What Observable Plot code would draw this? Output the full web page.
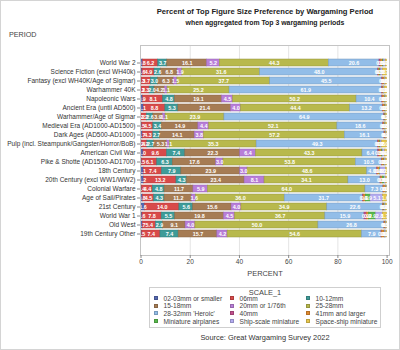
<!DOCTYPE html>
<html>
<head>
<meta charset="utf-8">
<script src="https://cdn.jsdelivr.net/npm/d3@7"></script>
<script src="https://cdn.jsdelivr.net/npm/@observablehq/plot@0.6"></script>
<style>
  html, body { margin: 0; padding: 0; background: #fff; }
  #wrap { position: relative; width: 400px; height: 350px; overflow: hidden; font-family: "Liberation Sans", Arial, sans-serif; color: #333; }
  #border { position: absolute; left: 0; top: 0; width: 400px; height: 350px; box-sizing: border-box; border: 1px solid #d4d4d4; pointer-events: none; }
  .t { position: absolute; white-space: nowrap; }
  #chart { position: absolute; left: 0; top: 0; }
  #legend { position: absolute; left: 149px; top: 287px; width: 232px; height: 41px; box-sizing: border-box; border: 1px solid #cfcfcf; }
  .li { position: absolute; font-size: 6.6px; line-height: 7px; color: #444; white-space: nowrap; }
  .sw { position: absolute; width: 4px; height: 4px; box-sizing: border-box; }
</style>
</head>
<body>
<div id="wrap">
  <div class="t" id="title" style="left:0;width:530px;top:8px;text-align:center;font-size:7.6px;line-height:8px;font-weight:bold;color:#222;">Percent of Top Figure Size Preference by Wargaming Period</div>
  <div class="t" id="subtitle" style="left:0;width:530px;top:19px;text-align:center;font-size:6.9px;line-height:8px;font-weight:bold;color:#222;">when aggregated from Top 3 wargaming periods</div>
  <div class="t" style="left:9px;top:31px;font-size:7.2px;line-height:8px;color:#444;">PERIOD</div>
  <div id="chart"></div>
  <div class="t" style="left:0;width:530px;top:270px;text-align:center;font-size:7.4px;line-height:8px;color:#444;">PERCENT</div>
  <div id="legend"></div>
  <div class="t" style="left:0;width:530px;top:334px;text-align:center;font-size:7.4px;line-height:8px;color:#333;">Source: Great Wargaming Survey 2022</div>
  <div id="border"></div>
</div>
<script>
const periods = [
  "World War 2",
  "Science Fiction (excl WH40k)",
  "Fantasy (excl WH40K/Age of Sigmar)",
  "Warhammer 40K",
  "Napoleonic Wars",
  "Ancient Era (until AD500)",
  "Warhammer/Age of Sigmar",
  "Medieval Era (AD1000-AD1500)",
  "Dark Ages (AD500-AD1000)",
  "Pulp (incl. Steampunk/Gangster/Horror/BoB)",
  "American Civil War",
  "Pike & Shotte (AD1500-AD1700)",
  "18th Century",
  "20th Century (excl WW1/WW2)",
  "Colonial Warfare",
  "Age of Sail/Pirates",
  "21st Century",
  "World War 1",
  "Old West",
  "19th Century Other"
];

const scaleNames = [
  "02-03mm or smaller", "06mm", "10-12mm",
  "15-18mm", "20mm or 1/76th", "25-28mm",
  "28-32mm 'Heroic'", "40mm", "41mm and larger",
  "Miniature airplanes", "Ship-scale miniature", "Space-ship miniature"
];

const scaleColors = [
  "#5468b0", "#d84a4a", "#3f9b98",
  "#a67c54", "#b87ed8", "#b8b94c",
  "#92bde8", "#c2508e", "#e08a2e",
  "#58b84c", "#b4acf0", "#e8c84e"
];

// values (%) per scale, in the order of periods
const v0203   = [0.8, 0.6, 0.3, 0.2, 0.9, 1.1, 0.2, 0.5, 0.7, 0.4, 1.0, 0.5, 1.1, 1.2, 0.4, 0.8, 1.6, 0.6, 0.7, 0.5];
const v06     = [6.2, 4.9, 3.7, 3.3, 8.1, 8.8, 2.2, 4.5, 4.3, 2.2, 9.6, 6.1, 7.4, 13.2, 4.4, 4.5, 14.0, 7.8, 5.4, 7.4];
const v1012   = [3.7, 2.6, 3.0, 2.0, 4.8, 5.3, 2.6, 3.4, 2.7, 2.7, 7.4, 6.3, 7.9, 4.3, 4.8, 4.3, 5.6, 5.5, 2.9, 7.4];
const v1518   = [16.1, 6.8, 6.3, 4.2, 19.1, 21.4, 3.9, 14.9, 14.1, 5.3, 22.3, 17.6, 23.9, 23.4, 11.7, 11.2, 15.6, 19.8, 9.1, 15.7];
const v20     = [5.2, 1.9, 1.5, 1.1, 4.5, 4.0, 1.1, 4.4, 3.8, 1.1, 6.4, 3.0, 3.0, 8.1, 5.9, 1.6, 4.0, 4.5, 4.0, 4.2];
const v2528   = [44.3, 31.6, 37.7, 25.2, 50.2, 44.4, 23.9, 52.1, 57.2, 35.3, 43.3, 53.8, 48.6, 34.1, 64.0, 36.0, 34.9, 36.7, 50.0, 54.6];
const v2832   = [20.6, 48.0, 45.5, 61.9, 10.4, 13.2, 64.9, 18.6, 16.1, 49.3, 6.4, 10.5, 4.0, 13.0, 7.3, 31.7, 22.6, 15.9, 26.8, 7.9];
const v40     = [0.5, 0.3, 0.4, 0.3, 0.3, 0.3, 0.2, 0.2, 0.2, 0.3, 0.5, 0.3, 0.4, 0.3, 0.1, 0.4, 0.2, 0.9, 0.1, 0.3];
const v41     = [0.9, 0.5, 0.6, 0.4, 0.8, 0.8, 0.3, 0.6, 0.4, 0.6, 1.0, 0.8, 0.8, 0.6, 1.0, 0.9, 0.4, 0.9, 0.5, 1.0];
const vAir    = [0.4, 0.3, 0.1, 0.1, 0.2, 0.1, 0.1, 0.1, 0.1, 0.2, 0.4, 0.2, 0.2, 0.8, 0.1, 1.9, 0.3, 2.9, 0.1, 0.2];
const vShip   = [0.7, 0.8, 0.3, 0.3, 0.3, 0.3, 0.2, 0.3, 0.2, 0.6, 0.9, 0.4, 2.2, 0.6, 0.2, 5.1, 0.3, 2.8, 0.2, 0.5];
const vSpace  = [0.6, 1.7, 0.6, 1.0, 0.4, 0.3, 0.4, 0.4, 0.2, 2.0, 0.8, 0.5, 0.5, 0.4, 0.1, 1.6, 0.5, 1.7, 0.2, 0.3];

const xTicks = [0, 20, 40, 60, 80, 100];

const series = [v0203, v06, v1012, v1518, v20, v2528, v2832, v40, v41, vAir, vShip, vSpace];
const data = [];
periods.forEach((p, i) => {
  scaleNames.forEach((s, j) => {
    data.push({period: p, scale: s, value: series[j][i], fillc: scaleColors[j], strokec: d3.color(scaleColors[j]).darker(0.6).formatHex()});
  });
});

const chart = Plot.plot({
  width: 400,
  height: 268,
  marginLeft: 140,
  marginRight: 11,
  marginTop: 45,
  marginBottom: 13,
  style: {fontFamily: "Liberation Sans, Arial, sans-serif", fontSize: "6.5px", color: "#444", background: "transparent"},
  x: {domain: [0, 100], range: [140.5, 386.6]},
  y: {domain: periods, range: [49.45, 247.65], paddingInner: 0.2, paddingOuter: 0.1},
  color: {type: "identity"},
  marks: [
    Plot.gridX([20, 40, 60, 80], {stroke: "#e4e4e4", strokeOpacity: 1}),
    Plot.barX(data, Plot.stackX({x: "value", y: "period", fill: "fillc", stroke: "strokec", strokeWidth: 0.5})),
    Plot.text(data, Plot.stackX({x: "value", y: "period", text: d => d.value.toFixed(1), fill: "white", fontSize: 5.4, fontWeight: "bold", clip: "frame"})),
    Plot.frame({stroke: "#c4c4c4"}),
    Plot.axisX({ticks: xTicks, tickSize: 3, tickPadding: 1, label: null, stroke: "#888", fill: "#444"}),
    Plot.axisY({tickSize: 3, tickPadding: 2, label: null, stroke: "#888", fill: "#333"})
  ]
});
document.getElementById("chart").appendChild(chart);

// legend
const legend = document.getElementById("legend");
const head = document.createElement("div");
head.className = "li";
head.style.cssText = "left:0;width:230px;top:1px;text-align:center;font-size:7.4px;line-height:8px;";
head.textContent = "SCALE_1";
legend.appendChild(head);
const colX = [4, 80, 156];
const rowY = [10, 17.7, 25.3, 33];
scaleNames.forEach((s, j) => {
  const c = j % 3, r = Math.floor(j / 3);
  const sw = document.createElement("div");
  sw.className = "sw";
  sw.style.left = colX[c] + "px";
  sw.style.top = (rowY[r] - 2) + "px";
  sw.style.background = scaleColors[j];
  sw.style.border = "0.6px solid " + d3.color(scaleColors[j]).darker(0.6).formatHex();
  legend.appendChild(sw);
  const t = document.createElement("div");
  t.className = "li";
  t.style.left = (colX[c] + 9.5) + "px";
  t.style.top = (rowY[r] - 3.5) + "px";
  t.textContent = s;
  legend.appendChild(t);
});
</script>
</body>
</html>
